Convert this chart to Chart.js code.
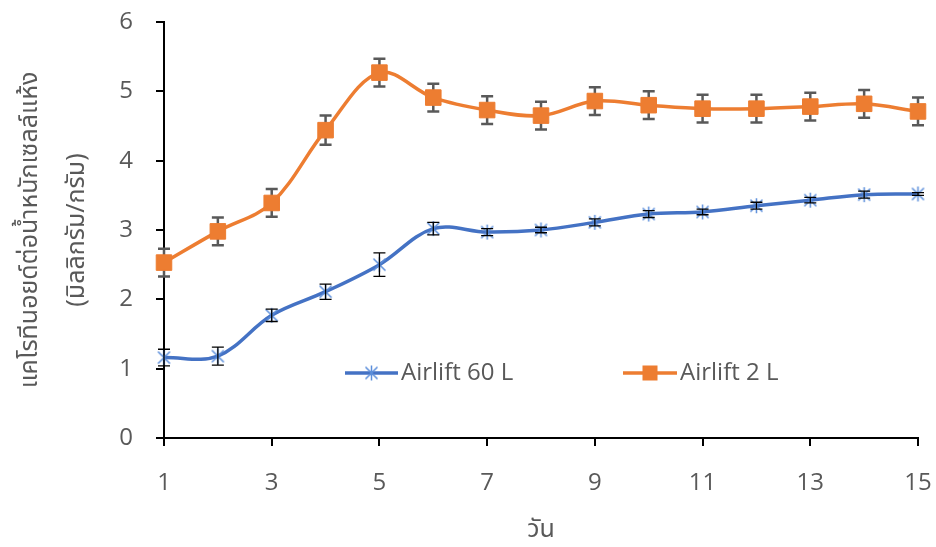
<!DOCTYPE html>
<html lang="th">
<head>
<meta charset="utf-8">
<title>แคโรทีนอยด์ต่อน้ำหนักเซลล์แห้ง</title>
<script src="https://cdn.jsdelivr.net/npm/chart.js@4.4.1/dist/chart.umd.min.js"></script>
<style>
  html, body { margin: 0; padding: 0; background: #ffffff; }
  #wrap { width: 936px; height: 547px; }
  canvas { display: block; }
</style>
</head>
<body>
<div id="wrap"><canvas id="chart" width="936" height="547"></canvas></div>
<script>
// Culture day
const days = [1, 2, 3, 4, 5, 6, 7, 8, 9, 10, 11, 12, 13, 14, 15];

// Carotenoid content per dry cell weight (mg/g)
const airlift60 = [1.16, 1.18, 1.77, 2.11, 2.50, 3.02, 2.97, 3.00, 3.11, 3.23, 3.26, 3.35, 3.43, 3.51, 3.52];
const airlift60Err = [0.12, 0.13, 0.09, 0.11, 0.17, 0.09, 0.05, 0.04, 0.05, 0.05, 0.04, 0.05, 0.04, 0.05, 0.02];

const airlift2 = [2.53, 2.98, 3.39, 4.44, 5.27, 4.91, 4.73, 4.65, 4.86, 4.80, 4.75, 4.75, 4.78, 4.82, 4.71];
const airlift2Err = [0.20, 0.20, 0.20, 0.21, 0.20, 0.20, 0.20, 0.20, 0.20, 0.20, 0.20, 0.20, 0.20, 0.20, 0.20];

const seriesNames = ['Airlift 60 L', 'Airlift 2 L'];
const yTicks = [0, 1, 2, 3, 4, 5, 6];
const xTitle = 'วัน';
const yTitle = ['แคโรทีนอยด์ต่อน้ำหนักเซลล์แห้ง', '(มิลลิกรัม/กรัม)'];

const BLUE = '#4472C4';
const ORANGE = '#ED7D31';
const TEXT = '#595959';
const LATIN = "'Open Sans', 'Noto Sans', sans-serif";
const THAI = "'Noto Sans Thai', Tahoma, 'Open Sans', sans-serif";

// Star marker: an X crossed by a vertical stroke
function makeStar(size, color) {
  const c = document.createElement('canvas');
  c.width = size; c.height = size;
  const g = c.getContext('2d');
  const m = size / 2, r = size / 2 - 1;
  g.strokeStyle = color;
  g.lineWidth = 1.5;
  g.beginPath();
  g.moveTo(m - r * 0.8, m - r * 0.8); g.lineTo(m + r * 0.8, m + r * 0.8);
  g.moveTo(m + r * 0.8, m - r * 0.8); g.lineTo(m - r * 0.8, m + r * 0.8);
  g.moveTo(m, m - r); g.lineTo(m, m + r);
  g.stroke();
  return c;
}
const starMarker = makeStar(17, '#5B8EDB');

// Vertical error bars with caps, drawn below or above the series
function drawErrorBars(chart, index) {
  const ds = chart.data.datasets[index];
  if (!ds.errors) return;
  const meta = chart.getDatasetMeta(index);
  if (meta.hidden) return;
  const xs = chart.scales.x, ys = chart.scales.y;
  const ctx = chart.ctx;
  ctx.save();
  ctx.strokeStyle = ds.errorColor;
  ctx.lineWidth = ds.errorWidth;
  ctx.lineCap = 'butt';
  ds.data.forEach((p, i) => {
    const e = ds.errors[i];
    const x = xs.getPixelForValue(p.x);
    const yTop = ys.getPixelForValue(p.y + e);
    const yBot = ys.getPixelForValue(p.y - e);
    const cap = ds.errorCap;
    ctx.beginPath();
    ctx.moveTo(x, yTop); ctx.lineTo(x, yBot);
    ctx.moveTo(x - cap, yTop); ctx.lineTo(x + cap, yTop);
    ctx.moveTo(x - cap, yBot); ctx.lineTo(x + cap, yBot);
    ctx.stroke();
  });
  ctx.restore();
}

const errorBarPlugin = {
  id: 'errorBars',
  beforeDatasetDraw(chart, args) {
    if (chart.data.datasets[args.index].errorLayer === 'below') drawErrorBars(chart, args.index);
  },
  afterDatasetDraw(chart, args) {
    if (chart.data.datasets[args.index].errorLayer === 'above') drawErrorBars(chart, args.index);
  }
};

// Legend placed inside the plot, below the curves
const innerLegendPlugin = {
  id: 'innerLegend',
  afterDraw(chart) {
    const ctx = chart.ctx;
    const y = 373;
    const items = [
      { ds: chart.data.datasets[0], x0: 345, x1: 398 },
      { ds: chart.data.datasets[1], x0: 623, x1: 677 }
    ];
    ctx.save();
    items.forEach(it => {
      const ds = it.ds;
      ctx.strokeStyle = ds.borderColor;
      ctx.lineWidth = ds.borderWidth;
      ctx.beginPath();
      ctx.moveTo(it.x0, y); ctx.lineTo(it.x1, y);
      ctx.stroke();
      const mx = (it.x0 + it.x1) / 2;
      if (ds.pointStyle === 'rect') {
        ctx.fillStyle = ds.pointBackgroundColor;
        ctx.fillRect(mx - 7.5, y - 7.5, 15, 15);
      } else {
        ctx.drawImage(ds.pointStyle, mx - ds.pointStyle.width / 2, y - ds.pointStyle.height / 2);
      }
      ctx.fillStyle = TEXT;
      ctx.font = '24px ' + LATIN;
      ctx.textAlign = 'left';
      ctx.textBaseline = 'middle';
      ctx.fillText(ds.label, it.x1 + 3, y);
    });
    ctx.restore();
  }
};

const toPoints = (vals) => days.map((d, i) => ({ x: d, y: vals[i] }));

new Chart(document.getElementById('chart'), {
  type: 'line',
  data: {
    datasets: [
      {
        label: seriesNames[0],
        data: toPoints(airlift60),
        errors: airlift60Err,
        errorColor: '#000000',
        errorWidth: 1.3,
        errorCap: 6,
        errorLayer: 'above',
        borderColor: BLUE,
        borderWidth: 3.5,
        tension: 0.35,
        pointStyle: starMarker,
        pointBackgroundColor: '#5B8EDB',
        pointBorderColor: '#5B8EDB',
        clip: false
      },
      {
        label: seriesNames[1],
        data: toPoints(airlift2),
        errors: airlift2Err,
        errorColor: '#595959',
        errorWidth: 2.5,
        errorCap: 6,
        errorLayer: 'below',
        borderColor: ORANGE,
        borderWidth: 3.5,
        tension: 0.35,
        pointStyle: 'rect',
        pointRadius: 11,
        pointBorderWidth: 1,
        pointBackgroundColor: ORANGE,
        pointBorderColor: ORANGE,
        clip: false
      }
    ]
  },
  options: {
    responsive: false,
    animation: false,
    devicePixelRatio: 1,
    layout: { padding: { left: 0, top: 22, right: 18, bottom: 0 } },
    plugins: {
      legend: { display: false },
      tooltip: { enabled: false }
    },
    scales: {
      x: {
        type: 'linear',
        min: days[0],
        max: days[days.length - 1],
        afterFit(scale) {
          scale.height = 109;
          scale.paddingLeft = 0;
          scale.paddingRight = 0;
        },
        ticks: {
          stepSize: 2,
          color: TEXT,
          font: { family: LATIN, size: 24 },
          padding: 23,
          maxRotation: 0
        },
        grid: { drawOnChartArea: false, drawTicks: true, tickLength: 8, color: '#000000', lineWidth: 2 },
        border: { display: true, color: '#000000', width: 2 },
        title: {
          display: true,
          text: xTitle,
          color: TEXT,
          font: { family: THAI, size: 25 },
          padding: { top: 0, bottom: 0 }
        }
      },
      y: {
        min: yTicks[0],
        max: yTicks[yTicks.length - 1],
        afterFit(scale) {
          scale.width = 164;
          scale.paddingTop = 0;
          scale.paddingBottom = 0;
        },
        afterBuildTicks(scale) { scale.ticks = yTicks.map(v => ({ value: v })); },
        ticks: {
          color: TEXT,
          font: { family: LATIN, size: 24 },
          padding: 23
        },
        grid: { drawOnChartArea: false, drawTicks: true, tickLength: 8, color: '#000000', lineWidth: 2 },
        border: { display: true, color: '#000000', width: 2 },
        title: {
          display: true,
          text: yTitle,
          color: TEXT,
          font: { family: THAI, size: 25, lineHeight: 1.9 },
          padding: { top: 8, bottom: 0 }
        }
      }
    }
  },
  plugins: [errorBarPlugin, innerLegendPlugin]
});
</script>
</body>
</html>
